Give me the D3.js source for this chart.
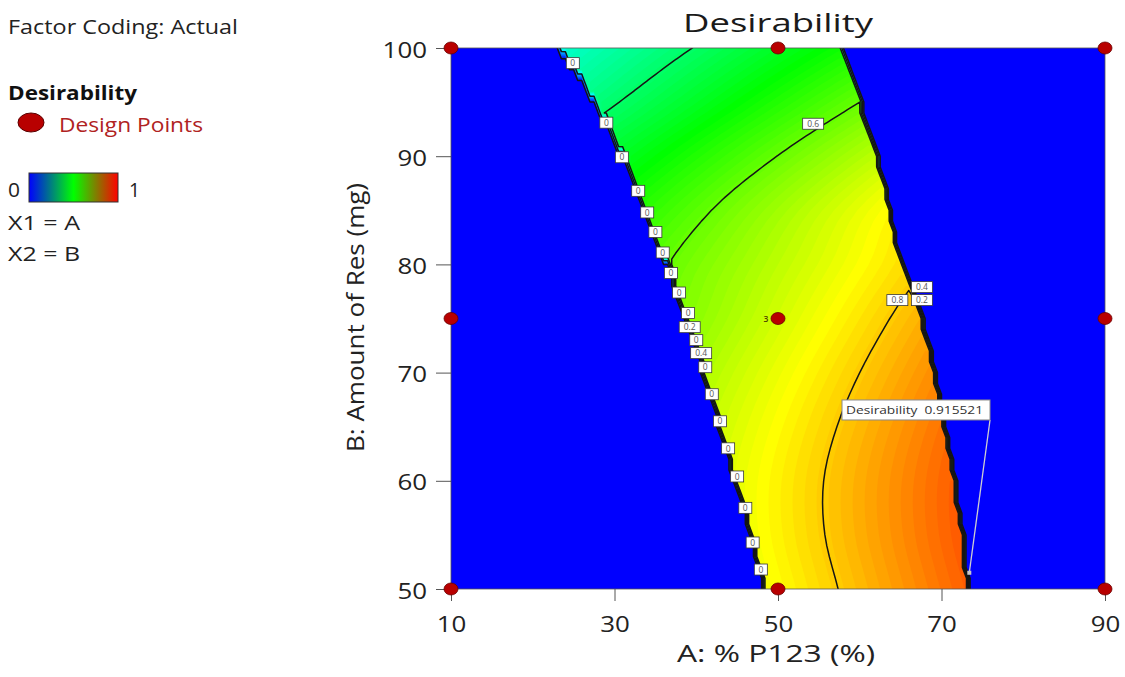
<!DOCTYPE html>
<html>
<head>
<meta charset="utf-8">
<script src="https://cdn.jsdelivr.net/npm/d3@7"></script>
<style>
  body { margin: 0; background: #ffffff; }
  svg text { font-family: "Open Sans", "Noto Sans", sans-serif; }
</style>
</head>
<body>
<svg id="chart" width="1125" height="677"></svg>
<script>
// ---- Factor levels of the desirability table ----
const aLevels = [20, 25, 30, 35, 40, 45, 50, 55, 60, 65, 70, 75, 80];   // A: % P123
const bLevels = [50, 55, 60, 65, 70, 75, 80, 85, 90, 95, 100];          // B: Amount of Res (mg)

// Desirability at each A level, one array per B level
const desirB50  = [0.546, 0.580, 0.614, 0.648, 0.682, 0.716, 0.750, 0.784, 0.818, 0.852, 0.886, 0.920, 0.954];
const desirB55  = [0.557, 0.591, 0.625, 0.659, 0.693, 0.727, 0.761, 0.795, 0.829, 0.863, 0.897, 0.931, 0.965];
const desirB60  = [0.558, 0.592, 0.626, 0.660, 0.694, 0.728, 0.762, 0.796, 0.830, 0.864, 0.898, 0.932, 0.966];
const desirB65  = [0.547, 0.581, 0.615, 0.649, 0.683, 0.717, 0.751, 0.785, 0.819, 0.853, 0.887, 0.921, 0.955];
const desirB70  = [0.528, 0.562, 0.596, 0.630, 0.664, 0.698, 0.732, 0.766, 0.800, 0.834, 0.868, 0.902, 0.936];
const desirB75  = [0.503, 0.537, 0.571, 0.605, 0.639, 0.673, 0.707, 0.741, 0.775, 0.809, 0.843, 0.877, 0.911];
const desirB80  = [0.495, 0.527, 0.558, 0.590, 0.622, 0.653, 0.685, 0.716, 0.748, 0.780, 0.811, 0.843, 0.875];
const desirB85  = [0.447, 0.482, 0.517, 0.552, 0.587, 0.622, 0.657, 0.692, 0.727, 0.762, 0.797, 0.832, 0.867];
const desirB90  = [0.391, 0.426, 0.461, 0.496, 0.531, 0.566, 0.601, 0.636, 0.671, 0.706, 0.741, 0.776, 0.811];
const desirB95  = [0.328, 0.362, 0.396, 0.430, 0.464, 0.498, 0.532, 0.566, 0.600, 0.634, 0.668, 0.702, 0.736];
const desirB100 = [0.279, 0.310, 0.341, 0.372, 0.403, 0.434, 0.465, 0.496, 0.527, 0.558, 0.589, 0.620, 0.651];

// Limits of the region where all responses meet their goals (desirability > 0), per B level
const feasibleLeftA  = [48.4, 46.8, 44.9, 42.9, 41.0, 38.8, 36.6, 33.6, 31.1, 27.8, 23.5];
const feasibleRightA = [73.2, 72.5, 71.5, 70.4, 69.2, 67.6, 65.0, 63.6, 62.1, 60.0, 57.6];

// Design points (face-centred design) and replicate count at the centre
const designA = [10, 50, 90];
const designB = [50, 75, 100];
const centreReplicates = 3;

// Contour levels and their labels: [level, A, B]
const contourLevels = [0, 0.2, 0.4, 0.6, 0.8];
const contourLabels = [
  [0, 24.9, 98.6], [0, 29.0, 93.1], [0, 30.9, 89.9], [0, 32.9, 86.8], [0, 34.0, 84.8],
  [0, 35.0, 83.0], [0, 35.9, 81.1], [0, 36.9, 79.2], [0, 37.9, 77.4], [0, 39.0, 75.5],
  [0.2, 39.2, 74.2], [0, 40.0, 73.0], [0.4, 40.6, 71.8], [0, 41.1, 70.5], [0, 41.9, 68.0],
  [0, 42.9, 65.5], [0, 43.9, 63.0], [0, 45.0, 60.4], [0, 46.0, 57.5], [0, 46.9, 54.3],
  [0, 47.9, 51.8], [0.6, 54.3, 93.0], [0.4, 67.6, 77.9], [0.8, 64.6, 76.7], [0.2, 67.6, 76.7]
];

// Optimum flagged on the plot
const optimumA = 73.4;
const optimumB = 51.5;
const optimumDesirability = 0.915521;

// Axis ticks
const xTickValues = [10, 30, 50, 70, 90];
const yTickValues = [50, 60, 70, 80, 90, 100];

// ---------------------------------------------------------------------------
const desirRows = [desirB50, desirB55, desirB60, desirB65, desirB70, desirB75,
                   desirB80, desirB85, desirB90, desirB95, desirB100];

const svg = d3.select("#chart");
const plot = { left: 451, right: 1105, top: 48, bottom: 589 };

const x = d3.scaleLinear().domain([10, 90]).range([plot.left, plot.right]);
const y = d3.scaleLinear().domain([50, 100]).range([plot.bottom, plot.top]);

// Colour ramp of the response surface
const surfaceColor = d3.scaleLinear()
  .domain([0, 0.25, 0.5, 0.75, 1])
  .range(["#0000ff", "#00ffff", "#00ff00", "#ffff00", "#ff0000"])
  .clamp(true);

// Table lookup helpers
function lookup(levels, v) {
  const k = Math.max(0, Math.min(levels.length - 2, d3.bisectRight(levels, v) - 1));
  const t = Math.max(0, Math.min(1, (v - levels[k]) / (levels[k + 1] - levels[k])));
  return [k, t];
}
function edgeAt(edge, b) {
  const [k, t] = lookup(bLevels, b);
  return edge[k] * (1 - t) + edge[k + 1] * t;
}
function rowAt(row, a) {
  const [i, t] = lookup(aLevels, a);
  return row[i] * (1 - t) + row[i + 1] * t;
}
// Smooth (Catmull-Rom) blending across the B levels
function desirabilityAt(a, b) {
  if (a < edgeAt(feasibleLeftA, b) || a > edgeAt(feasibleRightA, b)) return 0;
  const [j, t] = lookup(bLevels, b);
  const n = desirRows.length;
  const p1 = rowAt(desirRows[j], a);
  const p2 = rowAt(desirRows[j + 1], a);
  const p0 = j > 0 ? rowAt(desirRows[j - 1], a) : 2 * p1 - p2;
  const p3 = j + 2 < n ? rowAt(desirRows[j + 2], a) : 2 * p2 - p1;
  return 0.5 * (2 * p1 + (-p0 + p2) * t + (2 * p0 - 5 * p1 + 4 * p2 - p3) * t * t
                + (-p0 + 3 * p1 - 3 * p2 + p3) * t * t * t);
}

// Evaluation grid over the design space
const dA = 0.5, dB = 1;
const nx = Math.round(80 / dA) + 1, ny = Math.round(50 / dB) + 1;
const values = new Float64Array(nx * ny);
for (let j = 0; j < ny; j++) {
  for (let i = 0; i < nx; i++) {
    values[j * nx + i] = desirabilityAt(10 + i * dA, 50 + j * dB);
  }
}
const gridToPx = d3.geoTransform({
  point(cx, cy) {
    this.stream.point(x(10 + (cx - 0.5) * dA), y(50 + (cy - 0.5) * dB));
  }
});
const gridPath = d3.geoPath(gridToPx);

svg.append("defs").append("clipPath").attr("id", "plotClip")
  .append("rect")
  .attr("x", plot.left).attr("y", plot.top)
  .attr("width", plot.right - plot.left).attr("height", plot.bottom - plot.top);

const field = svg.append("g").attr("clip-path", "url(#plotClip)");
field.append("rect")
  .attr("x", plot.left).attr("y", plot.top)
  .attr("width", plot.right - plot.left).attr("height", plot.bottom - plot.top)
  .attr("fill", surfaceColor(0));

// Filled colour bands
const bandLevels = d3.range(0.005, 0.96, 0.01);
const bands = d3.contours().size([nx, ny]).thresholds(bandLevels)(values);
field.append("g").selectAll("path").data(bands).join("path")
  .attr("d", gridPath)
  .attr("fill", d => surfaceColor(d.value + 0.005));

// Contour lines (the zero line sits just above zero)
const lines = d3.contours().size([nx, ny])
  .thresholds(contourLevels.map(v => v === 0 ? 1e-4 : v))(values);
field.append("g").selectAll("path").data(lines).join("path")
  .attr("d", gridPath)
  .attr("fill", "none")
  .attr("stroke", "#151515")
  .attr("stroke-width", 1.5)
  .attr("stroke-linejoin", "round");

// Contour labels
const lab = svg.append("g");
contourLabels.forEach(([lv, a, b]) => {
  const txt = String(lv);
  const w = txt.length > 1 ? 21 : 13;
  const cx = x(a), cy = y(b);
  lab.append("rect")
    .attr("x", cx - w / 2).attr("y", cy - 5.5)
    .attr("width", w).attr("height", 11)
    .attr("fill", "#ffffff").attr("stroke", "#3a3a3a").attr("stroke-width", 0.8);
  lab.append("text")
    .attr("x", cx).attr("y", cy + 3.2)
    .attr("text-anchor", "middle")
    .attr("font-size", 8.5)
    .attr("fill", "#555555")
    .text(txt);
});

// Plot frame
svg.append("rect")
  .attr("x", plot.left).attr("y", plot.top)
  .attr("width", plot.right - plot.left).attr("height", plot.bottom - plot.top)
  .attr("fill", "none").attr("stroke", "#555555").attr("stroke-width", 0.8);

// Axes
const xAxis = svg.append("g")
  .attr("transform", `translate(0,${plot.bottom})`)
  .call(d3.axisBottom(x).tickValues(xTickValues).tickSize(12).tickPadding(15).tickFormat(d3.format("d")));
const yAxis = svg.append("g")
  .attr("transform", `translate(${plot.left},0)`)
  .call(d3.axisLeft(y).tickValues(yTickValues).tickSize(15).tickPadding(9).tickFormat(d3.format("d")));
[xAxis, yAxis].forEach(g => {
  g.select(".domain").remove();
  g.selectAll(".tick line").attr("stroke", "#555555").attr("stroke-width", 1);
  g.selectAll(".tick text")
    .attr("fill", "#222222")
    .attr("font-size", 22.5)
    .attr("font-family", "'Open Sans', 'Noto Sans', sans-serif")
    .attr("textLength", function () { return this.textContent.length * 14.8; })
    .attr("lengthAdjust", "spacingAndGlyphs");
});
yAxis.selectAll(".tick text").attr("dy", "0.4em");

// Design points
const dp = svg.append("g");
designA.forEach(a => designB.forEach(b => {
  dp.append("ellipse")
    .attr("cx", x(a)).attr("cy", y(b))
    .attr("rx", 7).attr("ry", 6)
    .attr("fill", "#b80000").attr("stroke", "#6a0000").attr("stroke-width", 0.8);
}));
svg.append("text")
  .attr("x", x(50) - 12).attr("y", y(75) + 3)
  .attr("text-anchor", "middle")
  .attr("font-size", 8.5).attr("font-weight", 600)
  .attr("fill", "#4d4300")
  .text(centreReplicates);

// Optimum flag
const ox = x(optimumA), oy = y(optimumB);
const boxL = x(57.83), boxT = y(67.47), boxW = 148, boxH = 20;
svg.append("line")
  .attr("x1", boxL + boxW).attr("y1", boxT + boxH)
  .attr("x2", ox).attr("y2", oy)
  .attr("stroke", "#cfcfcf").attr("stroke-width", 1.3);
svg.append("rect")
  .attr("x", ox - 2).attr("y", oy - 2).attr("width", 4).attr("height", 4)
  .attr("fill", "#c8c8c8");
svg.append("rect")
  .attr("x", boxL).attr("y", boxT).attr("width", boxW).attr("height", boxH)
  .attr("fill", "#ffffff").attr("stroke", "#8a8a8a").attr("stroke-width", 1);
svg.append("text")
  .attr("x", boxL + 4).attr("y", boxT + 14.5)
  .attr("font-size", 11.5).attr("fill", "#333333")
  .attr("textLength", 137).attr("lengthAdjust", "spacingAndGlyphs")
  .attr("xml:space", "preserve")
  .text("Desirability  " + optimumDesirability);

// Titles
function label(txt, xx, yy, size, width, opts = {}) {
  const t = svg.append("text")
    .attr("x", xx).attr("y", yy)
    .attr("font-size", size)
    .attr("fill", opts.fill || "#222222")
    .attr("font-weight", opts.weight || 400)
    .attr("text-anchor", opts.anchor || "start")
    .attr("textLength", width).attr("lengthAdjust", "spacingAndGlyphs")
    .text(txt);
  if (opts.rotate) t.attr("transform", `rotate(-90,${xx},${yy})`);
  return t;
}
label("Desirability", 778, 32, 25, 190, { anchor: "middle", fill: "#1a1a1a" });
label("A: % P123 (%)", 776, 662, 23, 198, { anchor: "middle" });
label("B: Amount of Res (mg)", 364, 317.5, 23, 269, { anchor: "middle", rotate: true });

// Legend block
label("Factor Coding: Actual", 8, 34, 19.5, 230);
label("Desirability", 8, 100, 19.5, 129, { weight: 700, fill: "#111111" });
svg.append("ellipse")
  .attr("cx", 31).attr("cy", 122.5).attr("rx", 13).attr("ry", 9.5)
  .attr("fill", "#b80000").attr("stroke", "#5a0000").attr("stroke-width", 1);
label("Design Points", 59, 132, 19.5, 144, { fill: "#b02222" });

const grad = svg.select("defs").append("linearGradient").attr("id", "legendRamp");
grad.selectAll("stop").data([["0%", "#0000ff"], ["50%", "#00ff00"], ["100%", "#ff0000"]])
  .join("stop").attr("offset", d => d[0]).attr("stop-color", d => d[1]);
svg.append("rect")
  .attr("x", 29).attr("y", 173).attr("width", 89).attr("height", 29)
  .attr("fill", "url(#legendRamp)").attr("stroke", "#333333").attr("stroke-width", 1);
label("0", 8, 197, 19.5, 12);
label("1", 129, 197, 19.5, 11);
label("X1 = A", 8, 230, 19.5, 72);
label("X2 = B", 8, 261, 19.5, 72);
</script>
</body>
</html>
